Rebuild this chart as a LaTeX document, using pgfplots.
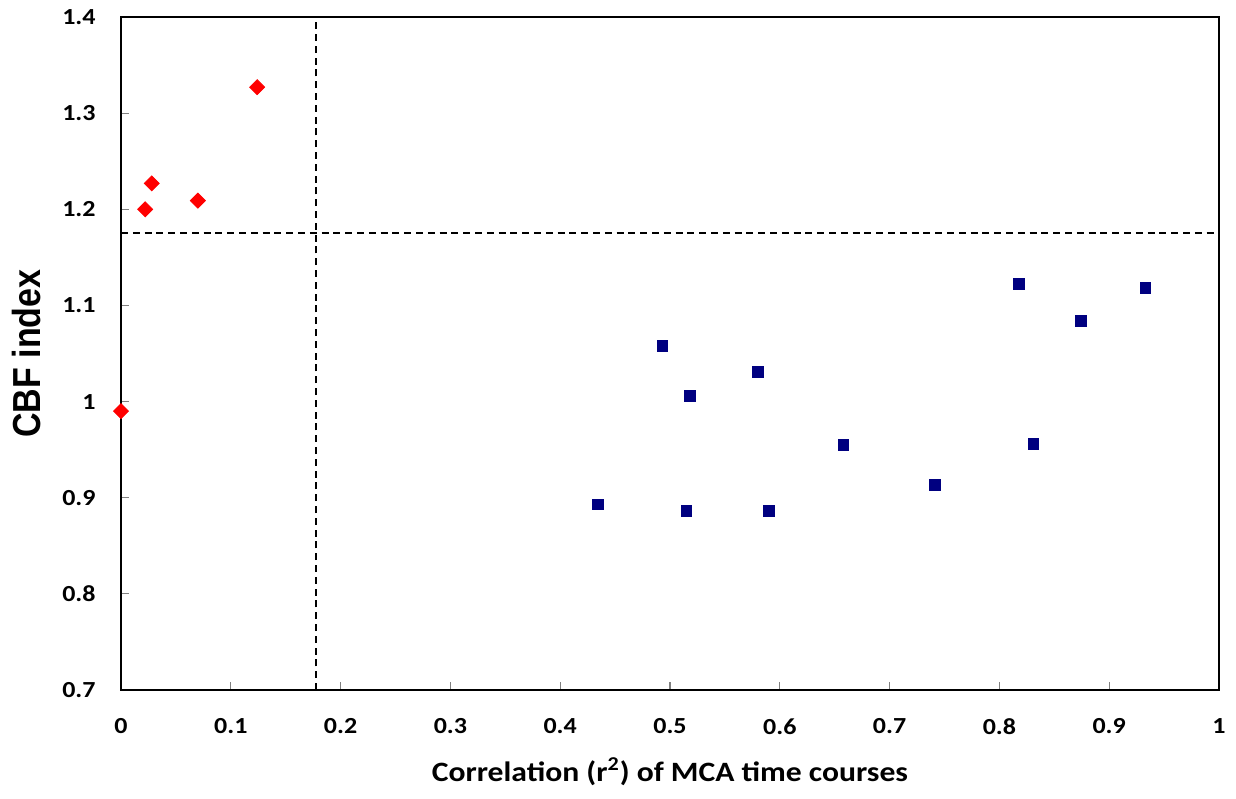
\documentclass[border=0pt]{standalone}
\usepackage{fontspec}
\setmainfont[FakeStretch=1.13]{Carlito}
\newfontfamily\arialfont{Liberation Sans}
\usepackage{pgfplots}
\pgfplotsset{compat=1.18}
\definecolor{navyb}{RGB}{0,0,128}
\begin{document}
\begin{tikzpicture}
\begin{axis}[
  scale only axis,
  width=549pt, height=336.5pt,
  xmin=0, xmax=1, ymin=0.7, ymax=1.4,
  xtick={0,0.1,...,1}, ytick={0.7,0.8,...,1.4},
  axis line style={black, line width=1pt},
  tick style={gray, line width=0.6pt},
  tick align=inside, major tick length=4pt,
  xtick pos=bottom, ytick pos=left,
  /pgf/number format/assume math mode=true,
  /pgf/number format/.cd, fixed, precision=1,
  /pgfplots/.cd,
  ticklabel style={font=\bfseries\fontsize{11.5}{13}\selectfont, inner sep=0pt},
  xticklabel style={anchor=north, yshift=-14pt},
  yticklabel style={anchor=east, xshift=-12.5pt},
  xlabel={Correlation (r\textsuperscript{2}) of MCA time courses},
  xlabel style={font=\bfseries\fontsize{14}{16}\selectfont, at={(axis description cs:0.5,0)}, anchor=base, yshift=-45.5pt, inner sep=0pt},
  ylabel={\scalebox{1}[1.15]{CBF index}},
  ylabel style={font=\arialfont\bfseries\fontsize{17}{19}\selectfont, at={(axis description cs:0,0.5)}, anchor=base, yshift=40.5pt, inner sep=0pt},
  clip=false,
]
\addplot[only marks, mark=square*, mark size=2.65pt, mark options={rotate=45}, color=red] coordinates {
(0.000,0.990) (0.022,1.200) (0.028,1.227) (0.070,1.209) (0.124,1.327)
};
\addplot[only marks, mark=square*, mark size=2.7pt, color=navyb] coordinates {
(0.434,0.893) (0.493,1.058) (0.515,0.886) (0.518,1.006) (0.580,1.031)
(0.590,0.886) (0.658,0.955) (0.741,0.913) (0.818,1.122) (0.831,0.956)
(0.874,1.084) (0.933,1.118)
};
\addplot[black, line width=0.95pt, dash pattern=on 3.5pt off 2.4pt] coordinates {(0.178,0.7) (0.178,1.4)};
\addplot[black, line width=0.95pt, dash pattern=on 3.5pt off 2.4pt] coordinates {(0,1.175) (1,1.175)};
\end{axis}
\pgfresetboundingbox
\path[use as bounding box] ([shift={(-60.5pt,-54pt)}]current axis.south west) rectangle ([shift={(8.5pt,8.5pt)}]current axis.north east);
\end{tikzpicture}
\end{document}
